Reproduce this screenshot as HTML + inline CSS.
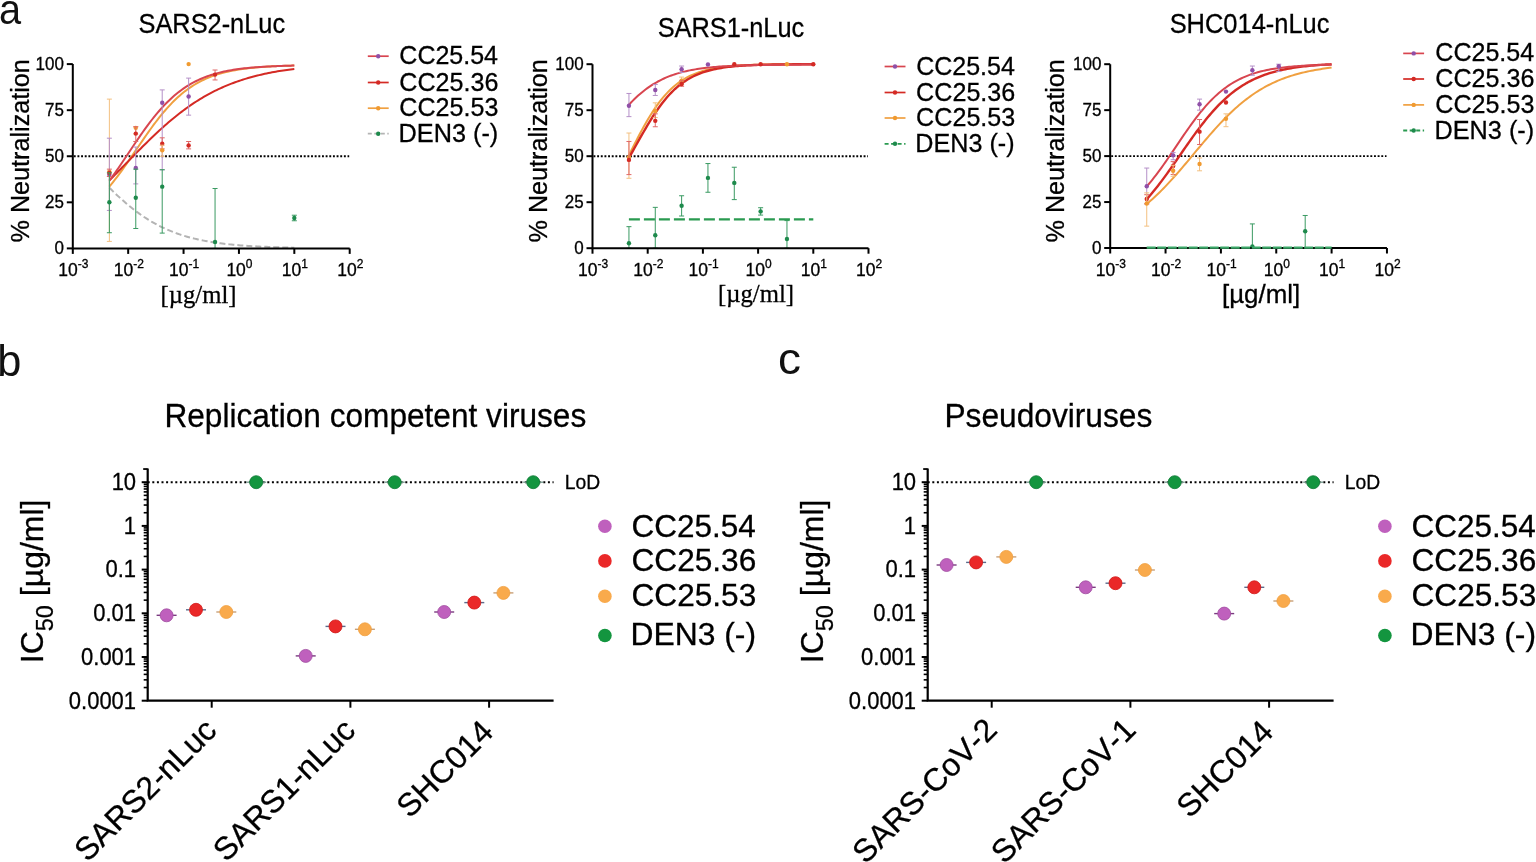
<!DOCTYPE html>
<html><head><meta charset="utf-8"><title>Figure</title>
<style>
html,body{margin:0;padding:0;background:#fff;}
body{width:1536px;height:862px;overflow:hidden;}
svg{display:block;}
.ff{font-family:"Liberation Sans", Arial, Helvetica, sans-serif;}
.ff2{font-family:"Liberation Serif", "Times New Roman", serif;}
text{font-kerning:none;stroke:#000;stroke-width:0.3px;}
</style></head><body>
<svg width="1536" height="862" viewBox="0 0 1536 862">
<rect width="1536" height="862" fill="#fff"/>
<text class="ff" x="-0.99" y="23.80" font-size="42.5" textLength="22.09" lengthAdjust="spacingAndGlyphs" fill="#111" style="stroke:none">a</text>
<text class="ff" x="-2.79" y="375.80" font-size="43.5" textLength="24.12" lengthAdjust="spacingAndGlyphs" fill="#111" style="stroke:none">b</text>
<text class="ff" x="777.95" y="374.00" font-size="43.5" textLength="22.96" lengthAdjust="spacingAndGlyphs" fill="#111" style="stroke:none">c</text>
<line x1="73.8" y1="156.2" x2="349.2" y2="156.2" stroke="#000" stroke-width="1.9" stroke-dasharray="1.9 1.75"/>
<polyline points="109.36,186.57 111.21,184.34 113.06,182.05 114.91,179.71 116.76,177.30 118.61,174.85 120.46,172.35 122.31,169.81 124.16,167.22 126.01,164.61 127.86,161.96 129.70,159.28 131.55,156.59 133.40,153.88 135.25,151.16 137.10,148.44 138.95,145.73 140.80,143.02 142.65,140.32 144.50,137.64 146.35,134.99 148.20,132.36 150.05,129.77 151.90,127.22 153.75,124.71 155.60,122.24 157.45,119.83 159.30,117.47 161.15,115.17 163.00,112.93 164.85,110.75 166.70,108.63 168.55,106.57 170.40,104.59 172.25,102.67 174.10,100.81 175.95,99.03 177.79,97.31 179.64,95.66 181.49,94.07 183.34,92.55 185.19,91.09 187.04,89.70 188.89,88.37 190.74,87.10 192.59,85.88 194.44,84.73 196.29,83.63 198.14,82.58 199.99,81.59 201.84,80.65 203.69,79.75 205.54,78.90 207.39,78.10 209.24,77.33 211.09,76.61 212.94,75.93 214.79,75.28 216.64,74.67 218.49,74.09 220.34,73.55 222.19,73.04 224.03,72.55 225.88,72.09 227.73,71.66 229.58,71.26 231.43,70.87 233.28,70.51 235.13,70.17 236.98,69.85 238.83,69.55 240.68,69.27 242.53,69.00 244.38,68.75 246.23,68.51 248.08,68.29 249.93,68.08 251.78,67.89 253.63,67.70 255.48,67.53 257.33,67.36 259.18,67.21 261.03,67.07 262.88,66.93 264.73,66.81 266.58,66.69 268.43,66.58 270.28,66.47 272.12,66.37 273.97,66.28 275.82,66.19 277.67,66.11 279.52,66.03 281.37,65.96 283.22,65.90 285.07,65.83 286.92,65.77 288.77,65.72 290.62,65.66 292.47,65.62 294.32,65.57" fill="none" stroke="#f0a040" stroke-width="2"/>
<polyline points="109.36,180.39 111.21,178.55 113.06,176.69 114.91,174.83 116.76,172.95 118.61,171.07 120.46,169.19 122.31,167.30 124.16,165.40 126.01,163.51 127.86,161.61 129.70,159.71 131.55,157.82 133.40,155.93 135.25,154.05 137.10,152.17 138.95,150.30 140.80,148.44 142.65,146.58 144.50,144.74 146.35,142.92 148.20,141.10 150.05,139.30 151.90,137.52 153.75,135.75 155.60,134.00 157.45,132.27 159.30,130.56 161.15,128.88 163.00,127.21 164.85,125.56 166.70,123.94 168.55,122.34 170.40,120.77 172.25,119.22 174.10,117.69 175.95,116.20 177.79,114.72 179.64,113.28 181.49,111.86 183.34,110.47 185.19,109.10 187.04,107.77 188.89,106.46 190.74,105.17 192.59,103.92 194.44,102.69 196.29,101.49 198.14,100.32 199.99,99.18 201.84,98.06 203.69,96.97 205.54,95.91 207.39,94.87 209.24,93.86 211.09,92.87 212.94,91.92 214.79,90.98 216.64,90.07 218.49,89.19 220.34,88.33 222.19,87.49 224.03,86.68 225.88,85.89 227.73,85.12 229.58,84.38 231.43,83.66 233.28,82.95 235.13,82.27 236.98,81.61 238.83,80.97 240.68,80.35 242.53,79.75 244.38,79.17 246.23,78.60 248.08,78.05 249.93,77.52 251.78,77.01 253.63,76.51 255.48,76.03 257.33,75.57 259.18,75.12 261.03,74.68 262.88,74.26 264.73,73.85 266.58,73.46 268.43,73.08 270.28,72.71 272.12,72.35 273.97,72.01 275.82,71.67 277.67,71.35 279.52,71.04 281.37,70.74 283.22,70.45 285.07,70.17 286.92,69.90 288.77,69.64 290.62,69.39 292.47,69.15 294.32,68.91" fill="none" stroke="#d42a24" stroke-width="2"/>
<polyline points="109.36,180.78 111.21,178.25 113.06,175.68 114.91,173.07 116.76,170.42 118.61,167.73 120.46,165.02 122.31,162.29 124.16,159.54 126.01,156.78 127.86,154.01 129.70,151.24 131.55,148.47 133.40,145.72 135.25,142.97 137.10,140.25 138.95,137.56 140.80,134.89 142.65,132.26 144.50,129.67 146.35,127.12 148.20,124.61 150.05,122.16 151.90,119.76 153.75,117.42 155.60,115.14 157.45,112.92 159.30,110.76 161.15,108.66 163.00,106.63 164.85,104.67 166.70,102.77 168.55,100.94 170.40,99.18 172.25,97.48 174.10,95.85 175.95,94.29 177.79,92.78 179.64,91.35 181.49,89.97 183.34,88.65 185.19,87.39 187.04,86.20 188.89,85.05 190.74,83.96 192.59,82.92 194.44,81.94 196.29,81.00 198.14,80.11 199.99,79.26 201.84,78.46 203.69,77.70 205.54,76.97 207.39,76.29 209.24,75.64 211.09,75.03 212.94,74.45 214.79,73.90 216.64,73.38 218.49,72.89 220.34,72.43 222.19,72.00 224.03,71.58 225.88,71.19 227.73,70.83 229.58,70.48 231.43,70.16 233.28,69.85 235.13,69.56 236.98,69.28 238.83,69.03 240.68,68.78 242.53,68.56 244.38,68.34 246.23,68.14 248.08,67.95 249.93,67.77 251.78,67.60 253.63,67.44 255.48,67.29 257.33,67.15 259.18,67.02 261.03,66.89 262.88,66.78 264.73,66.67 266.58,66.56 268.43,66.47 270.28,66.38 272.12,66.29 273.97,66.21 275.82,66.13 277.67,66.06 279.52,65.99 281.37,65.93 283.22,65.87 285.07,65.81 286.92,65.76 288.77,65.71 290.62,65.67 292.47,65.62 294.32,65.58" fill="none" stroke="#d8454f" stroke-width="2"/>
<polyline points="109.36,187.73 111.21,189.56 113.06,191.37 114.91,193.15 116.76,194.91 118.61,196.63 120.46,198.33 122.31,199.99 124.16,201.62 126.01,203.22 127.86,204.79 129.70,206.31 131.55,207.81 133.40,209.27 135.25,210.69 137.10,212.07 138.95,213.42 140.80,214.74 142.65,216.01 144.50,217.25 146.35,218.45 148.20,219.62 150.05,220.75 151.90,221.84 153.75,222.90 155.60,223.93 157.45,224.92 159.30,225.87 161.15,226.80 163.00,227.69 164.85,228.55 166.70,229.38 168.55,230.18 170.40,230.95 172.25,231.69 174.10,232.40 175.95,233.09 177.79,233.75 179.64,234.38 181.49,234.99 183.34,235.58 185.19,236.14 187.04,236.68 188.89,237.19 190.74,237.69 192.59,238.17 194.44,238.62 196.29,239.06 198.14,239.48 199.99,239.88 201.84,240.26 203.69,240.63 205.54,240.98 207.39,241.32 209.24,241.64 211.09,241.95 212.94,242.24 214.79,242.53 216.64,242.79 218.49,243.05 220.34,243.30 222.19,243.53 224.03,243.76 225.88,243.97 227.73,244.18 229.58,244.37 231.43,244.56 233.28,244.74 235.13,244.91 236.98,245.07 238.83,245.23 240.68,245.38 242.53,245.52 244.38,245.66 246.23,245.79 248.08,245.91 249.93,246.03 251.78,246.14 253.63,246.25 255.48,246.35 257.33,246.45 259.18,246.54 261.03,246.63 262.88,246.71 264.73,246.79 266.58,246.87 268.43,246.94 270.28,247.01 272.12,247.08 273.97,247.14 275.82,247.20 277.67,247.26 279.52,247.32 281.37,247.37 283.22,247.42 285.07,247.47 286.92,247.51 288.77,247.56 290.62,247.60 292.47,247.64 294.32,247.67" fill="none" stroke="#b4b4b4" stroke-width="2" stroke-dasharray="6 3"/>
<line x1="109.36" y1="99.12" x2="109.36" y2="241.40" stroke="#f3c080" stroke-width="1"/>
<line x1="106.86" y1="241.40" x2="111.86" y2="241.40" stroke="#f3c080" stroke-width="1"/>
<line x1="106.86" y1="99.12" x2="111.86" y2="99.12" stroke="#f3c080" stroke-width="1"/>
<circle cx="109.36" cy="171.73" r="2.2" fill="#f09a30"/>
<line x1="109.36" y1="138.19" x2="109.36" y2="210.43" stroke="#b590c8" stroke-width="1"/>
<line x1="106.86" y1="210.43" x2="111.86" y2="210.43" stroke="#b590c8" stroke-width="1"/>
<line x1="106.86" y1="138.19" x2="111.86" y2="138.19" stroke="#b590c8" stroke-width="1"/>
<circle cx="109.36" cy="174.68" r="2.2" fill="#9050a8"/>
<line x1="109.36" y1="169.15" x2="109.36" y2="176.52" stroke="#e06868" stroke-width="1"/>
<line x1="106.86" y1="176.52" x2="111.86" y2="176.52" stroke="#e06868" stroke-width="1"/>
<line x1="106.86" y1="169.15" x2="111.86" y2="169.15" stroke="#e06868" stroke-width="1"/>
<circle cx="109.36" cy="172.84" r="2.2" fill="#d42a24"/>
<line x1="109.36" y1="172.84" x2="109.36" y2="232.73" stroke="#3a9a62" stroke-width="1"/>
<line x1="106.86" y1="232.73" x2="111.86" y2="232.73" stroke="#3a9a62" stroke-width="1"/>
<line x1="106.86" y1="172.84" x2="111.86" y2="172.84" stroke="#3a9a62" stroke-width="1"/>
<circle cx="109.36" cy="202.32" r="2.2" fill="#1e8a4c"/>
<line x1="135.78" y1="126.76" x2="135.78" y2="134.13" stroke="#f3c080" stroke-width="1"/>
<line x1="133.28" y1="134.13" x2="138.28" y2="134.13" stroke="#f3c080" stroke-width="1"/>
<line x1="133.28" y1="126.76" x2="138.28" y2="126.76" stroke="#f3c080" stroke-width="1"/>
<circle cx="135.78" cy="127.87" r="2.2" fill="#f09a30"/>
<line x1="135.78" y1="126.76" x2="135.78" y2="141.51" stroke="#e06868" stroke-width="1"/>
<line x1="133.28" y1="141.51" x2="138.28" y2="141.51" stroke="#e06868" stroke-width="1"/>
<line x1="133.28" y1="126.76" x2="138.28" y2="126.76" stroke="#e06868" stroke-width="1"/>
<circle cx="135.78" cy="133.58" r="2.2" fill="#d42a24"/>
<line x1="135.78" y1="147.04" x2="135.78" y2="183.90" stroke="#b590c8" stroke-width="1"/>
<line x1="133.28" y1="183.90" x2="138.28" y2="183.90" stroke="#b590c8" stroke-width="1"/>
<line x1="133.28" y1="147.04" x2="138.28" y2="147.04" stroke="#b590c8" stroke-width="1"/>
<circle cx="135.78" cy="168.05" r="2.2" fill="#9050a8"/>
<line x1="135.78" y1="169.15" x2="135.78" y2="228.50" stroke="#3a9a62" stroke-width="1"/>
<line x1="133.28" y1="228.50" x2="138.28" y2="228.50" stroke="#3a9a62" stroke-width="1"/>
<line x1="133.28" y1="169.15" x2="138.28" y2="169.15" stroke="#3a9a62" stroke-width="1"/>
<circle cx="135.78" cy="197.72" r="2.2" fill="#1e8a4c"/>
<line x1="162.21" y1="89.90" x2="162.21" y2="169.89" stroke="#b590c8" stroke-width="1"/>
<line x1="159.71" y1="169.89" x2="164.71" y2="169.89" stroke="#b590c8" stroke-width="1"/>
<line x1="159.71" y1="89.90" x2="164.71" y2="89.90" stroke="#b590c8" stroke-width="1"/>
<circle cx="162.21" cy="102.80" r="2.2" fill="#9050a8"/>
<line x1="162.21" y1="137.82" x2="162.21" y2="148.88" stroke="#e06868" stroke-width="1"/>
<line x1="159.71" y1="148.88" x2="164.71" y2="148.88" stroke="#e06868" stroke-width="1"/>
<line x1="159.71" y1="137.82" x2="164.71" y2="137.82" stroke="#e06868" stroke-width="1"/>
<circle cx="162.21" cy="143.72" r="2.2" fill="#d42a24"/>
<line x1="162.21" y1="145.19" x2="162.21" y2="156.25" stroke="#f3c080" stroke-width="1"/>
<line x1="159.71" y1="156.25" x2="164.71" y2="156.25" stroke="#f3c080" stroke-width="1"/>
<line x1="159.71" y1="145.19" x2="164.71" y2="145.19" stroke="#f3c080" stroke-width="1"/>
<circle cx="162.21" cy="150.35" r="2.2" fill="#f09a30"/>
<line x1="162.21" y1="169.70" x2="162.21" y2="233.10" stroke="#3a9a62" stroke-width="1"/>
<line x1="159.71" y1="233.10" x2="164.71" y2="233.10" stroke="#3a9a62" stroke-width="1"/>
<line x1="159.71" y1="169.70" x2="164.71" y2="169.70" stroke="#3a9a62" stroke-width="1"/>
<circle cx="162.21" cy="186.66" r="2.2" fill="#1e8a4c"/>
<circle cx="188.63" cy="64.10" r="2.2" fill="#f09a30"/>
<line x1="188.63" y1="78.11" x2="188.63" y2="115.15" stroke="#b590c8" stroke-width="1"/>
<line x1="186.13" y1="115.15" x2="191.13" y2="115.15" stroke="#b590c8" stroke-width="1"/>
<line x1="186.13" y1="78.11" x2="191.13" y2="78.11" stroke="#b590c8" stroke-width="1"/>
<circle cx="188.63" cy="96.54" r="2.2" fill="#9050a8"/>
<line x1="188.63" y1="141.51" x2="188.63" y2="148.88" stroke="#e06868" stroke-width="1"/>
<line x1="186.13" y1="148.88" x2="191.13" y2="148.88" stroke="#e06868" stroke-width="1"/>
<line x1="186.13" y1="141.51" x2="191.13" y2="141.51" stroke="#e06868" stroke-width="1"/>
<circle cx="188.63" cy="145.38" r="2.2" fill="#d42a24"/>
<line x1="215.05" y1="70.00" x2="215.05" y2="79.95" stroke="#e06868" stroke-width="1"/>
<line x1="212.55" y1="79.95" x2="217.55" y2="79.95" stroke="#e06868" stroke-width="1"/>
<line x1="212.55" y1="70.00" x2="217.55" y2="70.00" stroke="#e06868" stroke-width="1"/>
<circle cx="215.05" cy="74.61" r="2.2" fill="#d42a24"/>
<line x1="215.05" y1="188.50" x2="215.05" y2="248.40" stroke="#3a9a62" stroke-width="1"/>
<line x1="212.55" y1="248.40" x2="217.55" y2="248.40" stroke="#3a9a62" stroke-width="1"/>
<line x1="212.55" y1="188.50" x2="217.55" y2="188.50" stroke="#3a9a62" stroke-width="1"/>
<circle cx="215.05" cy="241.95" r="2.2" fill="#1e8a4c"/>
<line x1="294.32" y1="215.23" x2="294.32" y2="220.75" stroke="#3a9a62" stroke-width="1"/>
<line x1="291.82" y1="220.75" x2="296.82" y2="220.75" stroke="#3a9a62" stroke-width="1"/>
<line x1="291.82" y1="215.23" x2="296.82" y2="215.23" stroke="#3a9a62" stroke-width="1"/>
<circle cx="294.32" cy="217.99" r="2.2" fill="#1e8a4c"/>
<path d="M72.80,64.10 V248.40 H349.70" fill="none" stroke="#000" stroke-width="2"/>
<line x1="72.80" y1="248.40" x2="72.80" y2="253.90" stroke="#000" stroke-width="2"/>
<line x1="128.18" y1="248.40" x2="128.18" y2="253.90" stroke="#000" stroke-width="2"/>
<line x1="183.56" y1="248.40" x2="183.56" y2="253.90" stroke="#000" stroke-width="2"/>
<line x1="238.94" y1="248.40" x2="238.94" y2="253.90" stroke="#000" stroke-width="2"/>
<line x1="294.32" y1="248.40" x2="294.32" y2="253.90" stroke="#000" stroke-width="2"/>
<line x1="349.70" y1="248.40" x2="349.70" y2="253.90" stroke="#000" stroke-width="2"/>
<line x1="66.80" y1="248.40" x2="72.80" y2="248.40" stroke="#000" stroke-width="2"/>
<text class="ff" x="54.51" y="254.40" font-size="17.85" textLength="9.45" lengthAdjust="spacingAndGlyphs" fill="#000" >0</text>
<line x1="66.80" y1="202.32" x2="72.80" y2="202.32" stroke="#000" stroke-width="2"/>
<text class="ff" x="45.10" y="208.32" font-size="17.85" textLength="18.91" lengthAdjust="spacingAndGlyphs" fill="#000" >25</text>
<line x1="66.80" y1="156.25" x2="72.80" y2="156.25" stroke="#000" stroke-width="2"/>
<text class="ff" x="45.05" y="162.25" font-size="17.85" textLength="18.91" lengthAdjust="spacingAndGlyphs" fill="#000" >50</text>
<line x1="66.80" y1="110.18" x2="72.80" y2="110.18" stroke="#000" stroke-width="2"/>
<text class="ff" x="45.10" y="116.18" font-size="17.85" textLength="18.91" lengthAdjust="spacingAndGlyphs" fill="#000" >75</text>
<line x1="66.80" y1="64.10" x2="72.80" y2="64.10" stroke="#000" stroke-width="2"/>
<text class="ff" x="35.60" y="70.10" font-size="17.85" textLength="28.36" lengthAdjust="spacingAndGlyphs" fill="#000" >100</text>
<text class="ff" x="58.30" y="275.90" font-size="17.5">10<tspan font-size="12" dy="-7.5">-3</tspan></text>
<text class="ff" x="113.71" y="275.90" font-size="17.5">10<tspan font-size="12" dy="-7.5">-2</tspan></text>
<text class="ff" x="169.09" y="275.90" font-size="17.5">10<tspan font-size="12" dy="-7.5">-1</tspan></text>
<text class="ff" x="226.40" y="275.90" font-size="17.5">10<tspan font-size="12" dy="-7.5">0</tspan></text>
<text class="ff" x="281.84" y="275.90" font-size="17.5">10<tspan font-size="12" dy="-7.5">1</tspan></text>
<text class="ff" x="337.23" y="275.90" font-size="17.5">10<tspan font-size="12" dy="-7.5">2</tspan></text>
<g transform="translate(28.60,241.60) rotate(-90)">
<text class="ff" x="-0.90" y="0.00" font-size="26.25" textLength="183.33" lengthAdjust="spacingAndGlyphs" fill="#000" >% Neutralization</text>
</g>
<text class="ff" x="138.55" y="33.20" font-size="26.78" textLength="146.52" lengthAdjust="spacingAndGlyphs" fill="#000" >SARS2-nLuc</text>
<text class="ff2" x="160.57" y="302.50" font-size="25.73" textLength="75.97" lengthAdjust="spacingAndGlyphs" fill="#000" >[µg/ml]</text>
<line x1="367.8" y1="56.2" x2="388.7" y2="56.2" stroke="#d8454f" stroke-width="1.7"/>
<circle cx="378.2" cy="56.2" r="2.2" fill="#9050a8"/>
<text class="ff" x="399.33" y="64.20" font-size="25.73" textLength="98.70" lengthAdjust="spacingAndGlyphs" fill="#000" >CC25.54</text>
<line x1="367.8" y1="82.5" x2="388.7" y2="82.5" stroke="#d42a24" stroke-width="1.7"/>
<circle cx="378.2" cy="82.5" r="2.2" fill="#d42a24"/>
<text class="ff" x="399.33" y="90.50" font-size="25.73" textLength="99.08" lengthAdjust="spacingAndGlyphs" fill="#000" >CC25.36</text>
<line x1="367.8" y1="108.2" x2="388.7" y2="108.2" stroke="#f0a040" stroke-width="1.7"/>
<circle cx="378.2" cy="108.2" r="2.2" fill="#f09a30"/>
<text class="ff" x="399.33" y="116.20" font-size="25.73" textLength="99.08" lengthAdjust="spacingAndGlyphs" fill="#000" >CC25.53</text>
<line x1="367.8" y1="133.7" x2="388.7" y2="133.7" stroke="#b4b4b4" stroke-width="1.8" stroke-dasharray="4 2.5"/>
<circle cx="378.2" cy="133.7" r="2.2" fill="#1e8a4c"/>
<text class="ff" x="398.53" y="141.70" font-size="25.73" textLength="99.74" lengthAdjust="spacingAndGlyphs" fill="#000" >DEN3 (-)</text>
<line x1="593.5" y1="156.2" x2="868.0" y2="156.2" stroke="#000" stroke-width="1.9" stroke-dasharray="1.9 1.75"/>
<polyline points="628.94,155.21 630.78,151.52 632.63,147.85 634.47,144.20 636.31,140.59 638.16,137.03 640.00,133.53 641.85,130.10 643.69,126.74 645.53,123.47 647.38,120.29 649.22,117.21 651.06,114.23 652.91,111.35 654.75,108.59 656.59,105.94 658.44,103.40 660.28,100.98 662.13,98.66 663.97,96.47 665.81,94.38 667.66,92.40 669.50,90.53 671.34,88.76 673.19,87.09 675.03,85.52 676.87,84.04 678.72,82.66 680.56,81.36 682.40,80.14 684.25,78.99 686.09,77.93 687.94,76.93 689.78,76.00 691.62,75.13 693.47,74.32 695.31,73.56 697.15,72.86 699.00,72.21 700.84,71.60 702.68,71.04 704.53,70.51 706.37,70.03 708.21,69.58 710.06,69.16 711.90,68.77 713.75,68.41 715.59,68.08 717.43,67.77 719.28,67.48 721.12,67.22 722.96,66.97 724.81,66.75 726.65,66.54 728.49,66.34 730.34,66.16 732.18,66.00 734.03,65.84 735.87,65.70 737.71,65.57 739.56,65.45 741.40,65.34 743.24,65.23 745.09,65.14 746.93,65.05 748.77,64.97 750.62,64.89 752.46,64.82 754.30,64.76 756.15,64.70 757.99,64.64 759.84,64.59 761.68,64.54 763.52,64.50 765.37,64.46 767.21,64.42 769.05,64.39 770.90,64.36 772.74,64.33 774.58,64.30 776.43,64.28 778.27,64.25 780.12,64.23 781.96,64.21 783.80,64.20 785.65,64.18 787.49,64.16 789.33,64.15 791.18,64.14 793.02,64.12 794.86,64.11 796.71,64.10 798.55,64.09 800.39,64.08 802.24,64.08 804.08,64.07 805.93,64.06 807.77,64.06 809.61,64.05 811.46,64.04 813.30,64.04" fill="none" stroke="#f0a040" stroke-width="2"/>
<polyline points="628.94,157.80 630.78,154.57 632.63,151.31 634.47,148.03 636.31,144.74 638.16,141.46 640.00,138.19 641.85,134.95 643.69,131.74 645.53,128.57 647.38,125.46 649.22,122.40 651.06,119.42 652.91,116.52 654.75,113.69 656.59,110.96 658.44,108.31 660.28,105.77 662.13,103.32 663.97,100.97 665.81,98.72 667.66,96.58 669.50,94.53 671.34,92.59 673.19,90.75 675.03,89.00 676.87,87.35 678.72,85.79 680.56,84.32 682.40,82.94 684.25,81.64 686.09,80.42 687.94,79.28 689.78,78.21 691.62,77.21 693.47,76.27 695.31,75.40 697.15,74.58 699.00,73.82 700.84,73.11 702.68,72.45 704.53,71.84 706.37,71.27 708.21,70.74 710.06,70.25 711.90,69.79 713.75,69.37 715.59,68.98 717.43,68.61 719.28,68.28 721.12,67.96 722.96,67.67 724.81,67.41 726.65,67.16 728.49,66.93 730.34,66.72 732.18,66.52 734.03,66.34 735.87,66.17 737.71,66.02 739.56,65.87 741.40,65.74 743.24,65.62 745.09,65.50 746.93,65.40 748.77,65.30 750.62,65.21 752.46,65.13 754.30,65.06 756.15,64.99 757.99,64.92 759.84,64.86 761.68,64.81 763.52,64.76 765.37,64.71 767.21,64.66 769.05,64.62 770.90,64.59 772.74,64.55 774.58,64.52 776.43,64.49 778.27,64.47 780.12,64.44 781.96,64.42 783.80,64.40 785.65,64.38 787.49,64.36 789.33,64.34 791.18,64.33 793.02,64.31 794.86,64.30 796.71,64.29 798.55,64.28 800.39,64.27 802.24,64.26 804.08,64.25 805.93,64.24 807.77,64.23 809.61,64.23 811.46,64.22 813.30,64.21" fill="none" stroke="#d42a24" stroke-width="2.4"/>
<polyline points="628.94,104.74 630.78,102.78 632.63,100.89 634.47,99.06 636.31,97.30 638.16,95.61 640.00,93.99 641.85,92.44 643.69,90.95 645.53,89.52 647.38,88.16 649.22,86.86 651.06,85.63 652.91,84.45 654.75,83.32 656.59,82.26 658.44,81.25 660.28,80.28 662.13,79.37 663.97,78.51 665.81,77.69 667.66,76.92 669.50,76.18 671.34,75.49 673.19,74.84 675.03,74.22 676.87,73.64 678.72,73.09 680.56,72.57 682.40,72.08 684.25,71.62 686.09,71.19 687.94,70.78 689.78,70.39 691.62,70.03 693.47,69.69 695.31,69.37 697.15,69.07 699.00,68.79 700.84,68.53 702.68,68.28 704.53,68.04 706.37,67.82 708.21,67.62 710.06,67.42 711.90,67.24 713.75,67.07 715.59,66.91 717.43,66.76 719.28,66.62 721.12,66.49 722.96,66.36 724.81,66.25 726.65,66.14 728.49,66.03 730.34,65.94 732.18,65.85 734.03,65.76 735.87,65.69 737.71,65.61 739.56,65.54 741.40,65.48 743.24,65.42 745.09,65.36 746.93,65.31 748.77,65.26 750.62,65.21 752.46,65.16 754.30,65.12 756.15,65.08 757.99,65.05 759.84,65.01 761.68,64.98 763.52,64.95 765.37,64.92 767.21,64.90 769.05,64.87 770.90,64.85 772.74,64.83 774.58,64.81 776.43,64.79 778.27,64.77 780.12,64.76 781.96,64.74 783.80,64.73 785.65,64.71 787.49,64.70 789.33,64.69 791.18,64.68 793.02,64.67 794.86,64.66 796.71,64.65 798.55,64.64 800.39,64.63 802.24,64.62 804.08,64.62 805.93,64.61 807.77,64.60 809.61,64.60 811.46,64.59 813.30,64.59" fill="none" stroke="#d8454f" stroke-width="2"/>
<line x1="628.94" y1="93.46" x2="628.94" y2="116.64" stroke="#b590c8" stroke-width="1"/>
<line x1="626.44" y1="116.64" x2="631.44" y2="116.64" stroke="#b590c8" stroke-width="1"/>
<line x1="626.44" y1="93.46" x2="631.44" y2="93.46" stroke="#b590c8" stroke-width="1"/>
<circle cx="628.94" cy="105.78" r="2.2" fill="#9050a8"/>
<line x1="628.94" y1="133.02" x2="628.94" y2="178.28" stroke="#f3c080" stroke-width="1"/>
<line x1="626.44" y1="178.28" x2="631.44" y2="178.28" stroke="#f3c080" stroke-width="1"/>
<line x1="626.44" y1="133.02" x2="631.44" y2="133.02" stroke="#f3c080" stroke-width="1"/>
<circle cx="628.94" cy="157.30" r="2.2" fill="#f09a30"/>
<line x1="628.94" y1="141.48" x2="628.94" y2="174.60" stroke="#e06868" stroke-width="1"/>
<line x1="626.44" y1="174.60" x2="631.44" y2="174.60" stroke="#e06868" stroke-width="1"/>
<line x1="626.44" y1="141.48" x2="631.44" y2="141.48" stroke="#e06868" stroke-width="1"/>
<circle cx="628.94" cy="159.88" r="2.2" fill="#d42a24"/>
<line x1="628.94" y1="226.67" x2="628.94" y2="248.20" stroke="#3a9a62" stroke-width="1"/>
<line x1="626.44" y1="248.20" x2="631.44" y2="248.20" stroke="#3a9a62" stroke-width="1"/>
<line x1="626.44" y1="226.67" x2="631.44" y2="226.67" stroke="#3a9a62" stroke-width="1"/>
<circle cx="628.94" cy="243.23" r="2.2" fill="#1e8a4c"/>
<line x1="655.28" y1="84.44" x2="655.28" y2="95.48" stroke="#b590c8" stroke-width="1"/>
<line x1="652.78" y1="95.48" x2="657.78" y2="95.48" stroke="#b590c8" stroke-width="1"/>
<line x1="652.78" y1="84.44" x2="657.78" y2="84.44" stroke="#b590c8" stroke-width="1"/>
<circle cx="655.28" cy="89.96" r="2.2" fill="#9050a8"/>
<line x1="655.28" y1="102.84" x2="655.28" y2="117.56" stroke="#f3c080" stroke-width="1"/>
<line x1="652.78" y1="117.56" x2="657.78" y2="117.56" stroke="#f3c080" stroke-width="1"/>
<line x1="652.78" y1="102.84" x2="657.78" y2="102.84" stroke="#f3c080" stroke-width="1"/>
<circle cx="655.28" cy="110.94" r="2.2" fill="#f09a30"/>
<line x1="655.28" y1="113.88" x2="655.28" y2="126.76" stroke="#e06868" stroke-width="1"/>
<line x1="652.78" y1="126.76" x2="657.78" y2="126.76" stroke="#e06868" stroke-width="1"/>
<line x1="652.78" y1="113.88" x2="657.78" y2="113.88" stroke="#e06868" stroke-width="1"/>
<circle cx="655.28" cy="120.87" r="2.2" fill="#d42a24"/>
<line x1="655.28" y1="207.35" x2="655.28" y2="248.20" stroke="#3a9a62" stroke-width="1"/>
<line x1="652.78" y1="248.20" x2="657.78" y2="248.20" stroke="#3a9a62" stroke-width="1"/>
<line x1="652.78" y1="207.35" x2="657.78" y2="207.35" stroke="#3a9a62" stroke-width="1"/>
<circle cx="655.28" cy="235.32" r="2.2" fill="#1e8a4c"/>
<line x1="681.61" y1="66.04" x2="681.61" y2="72.48" stroke="#b590c8" stroke-width="1"/>
<line x1="679.11" y1="72.48" x2="684.11" y2="72.48" stroke="#b590c8" stroke-width="1"/>
<line x1="679.11" y1="66.04" x2="684.11" y2="66.04" stroke="#b590c8" stroke-width="1"/>
<circle cx="681.61" cy="69.17" r="2.2" fill="#9050a8"/>
<line x1="681.61" y1="77.08" x2="681.61" y2="84.44" stroke="#f3c080" stroke-width="1"/>
<line x1="679.11" y1="84.44" x2="684.11" y2="84.44" stroke="#f3c080" stroke-width="1"/>
<line x1="679.11" y1="77.08" x2="684.11" y2="77.08" stroke="#f3c080" stroke-width="1"/>
<circle cx="681.61" cy="80.76" r="2.2" fill="#f09a30"/>
<line x1="681.61" y1="80.76" x2="681.61" y2="86.28" stroke="#e06868" stroke-width="1"/>
<line x1="679.11" y1="86.28" x2="684.11" y2="86.28" stroke="#e06868" stroke-width="1"/>
<line x1="679.11" y1="80.76" x2="684.11" y2="80.76" stroke="#e06868" stroke-width="1"/>
<circle cx="681.61" cy="84.07" r="2.2" fill="#d42a24"/>
<line x1="681.61" y1="195.76" x2="681.61" y2="216.00" stroke="#3a9a62" stroke-width="1"/>
<line x1="679.11" y1="216.00" x2="684.11" y2="216.00" stroke="#3a9a62" stroke-width="1"/>
<line x1="679.11" y1="195.76" x2="684.11" y2="195.76" stroke="#3a9a62" stroke-width="1"/>
<circle cx="681.61" cy="205.70" r="2.2" fill="#1e8a4c"/>
<circle cx="707.95" cy="64.57" r="2.2" fill="#9050a8"/>
<line x1="707.95" y1="163.56" x2="707.95" y2="192.26" stroke="#3a9a62" stroke-width="1"/>
<line x1="705.45" y1="192.26" x2="710.45" y2="192.26" stroke="#3a9a62" stroke-width="1"/>
<line x1="705.45" y1="163.56" x2="710.45" y2="163.56" stroke="#3a9a62" stroke-width="1"/>
<circle cx="707.95" cy="177.91" r="2.2" fill="#1e8a4c"/>
<circle cx="734.29" cy="64.20" r="2.2" fill="#d42a24"/>
<line x1="734.29" y1="167.24" x2="734.29" y2="199.62" stroke="#3a9a62" stroke-width="1"/>
<line x1="731.79" y1="199.62" x2="736.79" y2="199.62" stroke="#3a9a62" stroke-width="1"/>
<line x1="731.79" y1="167.24" x2="736.79" y2="167.24" stroke="#3a9a62" stroke-width="1"/>
<circle cx="734.29" cy="182.88" r="2.2" fill="#1e8a4c"/>
<circle cx="760.63" cy="64.20" r="2.2" fill="#d42a24"/>
<line x1="760.63" y1="207.72" x2="760.63" y2="215.08" stroke="#3a9a62" stroke-width="1"/>
<line x1="758.13" y1="215.08" x2="763.13" y2="215.08" stroke="#3a9a62" stroke-width="1"/>
<line x1="758.13" y1="207.72" x2="763.13" y2="207.72" stroke="#3a9a62" stroke-width="1"/>
<circle cx="760.63" cy="211.40" r="2.2" fill="#1e8a4c"/>
<circle cx="786.96" cy="64.20" r="2.2" fill="#f09a30"/>
<line x1="786.96" y1="220.60" x2="786.96" y2="248.20" stroke="#3a9a62" stroke-width="1"/>
<line x1="784.46" y1="248.20" x2="789.46" y2="248.20" stroke="#3a9a62" stroke-width="1"/>
<line x1="784.46" y1="220.60" x2="789.46" y2="220.60" stroke="#3a9a62" stroke-width="1"/>
<circle cx="786.96" cy="239.00" r="2.2" fill="#1e8a4c"/>
<circle cx="813.30" cy="64.20" r="2.2" fill="#d42a24"/>
<path d="M592.50,64.20 V248.20 H868.50" fill="none" stroke="#000" stroke-width="2"/>
<line x1="592.50" y1="248.20" x2="592.50" y2="253.70" stroke="#000" stroke-width="2"/>
<line x1="647.70" y1="248.20" x2="647.70" y2="253.70" stroke="#000" stroke-width="2"/>
<line x1="702.90" y1="248.20" x2="702.90" y2="253.70" stroke="#000" stroke-width="2"/>
<line x1="758.10" y1="248.20" x2="758.10" y2="253.70" stroke="#000" stroke-width="2"/>
<line x1="813.30" y1="248.20" x2="813.30" y2="253.70" stroke="#000" stroke-width="2"/>
<line x1="868.50" y1="248.20" x2="868.50" y2="253.70" stroke="#000" stroke-width="2"/>
<line x1="586.50" y1="248.20" x2="592.50" y2="248.20" stroke="#000" stroke-width="2"/>
<text class="ff" x="574.21" y="254.20" font-size="17.85" textLength="9.45" lengthAdjust="spacingAndGlyphs" fill="#000" >0</text>
<line x1="586.50" y1="202.20" x2="592.50" y2="202.20" stroke="#000" stroke-width="2"/>
<text class="ff" x="564.80" y="208.20" font-size="17.85" textLength="18.91" lengthAdjust="spacingAndGlyphs" fill="#000" >25</text>
<line x1="586.50" y1="156.20" x2="592.50" y2="156.20" stroke="#000" stroke-width="2"/>
<text class="ff" x="564.75" y="162.20" font-size="17.85" textLength="18.91" lengthAdjust="spacingAndGlyphs" fill="#000" >50</text>
<line x1="586.50" y1="110.20" x2="592.50" y2="110.20" stroke="#000" stroke-width="2"/>
<text class="ff" x="564.80" y="116.20" font-size="17.85" textLength="18.91" lengthAdjust="spacingAndGlyphs" fill="#000" >75</text>
<line x1="586.50" y1="64.20" x2="592.50" y2="64.20" stroke="#000" stroke-width="2"/>
<text class="ff" x="555.30" y="70.20" font-size="17.85" textLength="28.36" lengthAdjust="spacingAndGlyphs" fill="#000" >100</text>
<text class="ff" x="578.00" y="275.90" font-size="17.5">10<tspan font-size="12" dy="-7.5">-3</tspan></text>
<text class="ff" x="633.23" y="275.90" font-size="17.5">10<tspan font-size="12" dy="-7.5">-2</tspan></text>
<text class="ff" x="688.43" y="275.90" font-size="17.5">10<tspan font-size="12" dy="-7.5">-1</tspan></text>
<text class="ff" x="745.56" y="275.90" font-size="17.5">10<tspan font-size="12" dy="-7.5">0</tspan></text>
<text class="ff" x="800.82" y="275.90" font-size="17.5">10<tspan font-size="12" dy="-7.5">1</tspan></text>
<text class="ff" x="856.03" y="275.90" font-size="17.5">10<tspan font-size="12" dy="-7.5">2</tspan></text>
<g transform="translate(547.20,241.60) rotate(-90)">
<text class="ff" x="-0.90" y="0.00" font-size="26.25" textLength="183.33" lengthAdjust="spacingAndGlyphs" fill="#000" >% Neutralization</text>
</g>
<text class="ff" x="657.65" y="36.90" font-size="26.78" textLength="146.52" lengthAdjust="spacingAndGlyphs" fill="#000" >SARS1-nLuc</text>
<text class="ff2" x="718.07" y="302.00" font-size="25.73" textLength="75.97" lengthAdjust="spacingAndGlyphs" fill="#000" >[µg/ml]</text>
<line x1="884.6" y1="66.5" x2="905.5" y2="66.5" stroke="#d8454f" stroke-width="1.7"/>
<circle cx="895.0" cy="66.5" r="2.2" fill="#9050a8"/>
<text class="ff" x="916.13" y="74.50" font-size="25.73" textLength="98.80" lengthAdjust="spacingAndGlyphs" fill="#000" >CC25.54</text>
<line x1="884.6" y1="92.5" x2="905.5" y2="92.5" stroke="#d42a24" stroke-width="1.7"/>
<circle cx="895.0" cy="92.5" r="2.2" fill="#d42a24"/>
<text class="ff" x="916.12" y="100.50" font-size="25.73" textLength="99.18" lengthAdjust="spacingAndGlyphs" fill="#000" >CC25.36</text>
<line x1="884.6" y1="118.0" x2="905.5" y2="118.0" stroke="#f0a040" stroke-width="1.7"/>
<circle cx="895.0" cy="118.0" r="2.2" fill="#f09a30"/>
<text class="ff" x="916.12" y="126.00" font-size="25.73" textLength="99.18" lengthAdjust="spacingAndGlyphs" fill="#000" >CC25.53</text>
<line x1="884.6" y1="143.8" x2="905.5" y2="143.8" stroke="#2a9a50" stroke-width="1.8" stroke-dasharray="4 2.5"/>
<circle cx="895.0" cy="143.8" r="2.2" fill="#1e8a4c"/>
<text class="ff" x="915.34" y="151.80" font-size="25.73" textLength="99.22" lengthAdjust="spacingAndGlyphs" fill="#000" >DEN3 (-)</text>
<line x1="1111.2" y1="156.1" x2="1386.5" y2="156.1" stroke="#000" stroke-width="1.9" stroke-dasharray="1.9 1.75"/>
<polyline points="1146.74,203.95 1148.59,202.40 1150.44,200.80 1152.29,199.16 1154.13,197.49 1155.98,195.77 1157.83,194.01 1159.68,192.22 1161.53,190.38 1163.38,188.51 1165.23,186.60 1167.07,184.66 1168.92,182.69 1170.77,180.68 1172.62,178.65 1174.47,176.59 1176.32,174.50 1178.17,172.39 1180.01,170.25 1181.86,168.10 1183.71,165.93 1185.56,163.74 1187.41,161.55 1189.26,159.34 1191.11,157.13 1192.95,154.91 1194.80,152.69 1196.65,150.48 1198.50,148.26 1200.35,146.05 1202.20,143.86 1204.05,141.67 1205.89,139.50 1207.74,137.34 1209.59,135.20 1211.44,133.09 1213.29,130.99 1215.14,128.93 1216.99,126.89 1218.84,124.87 1220.68,122.89 1222.53,120.95 1224.38,119.03 1226.23,117.16 1228.08,115.31 1229.93,113.51 1231.78,111.75 1233.62,110.02 1235.47,108.33 1237.32,106.69 1239.17,105.09 1241.02,103.53 1242.87,102.00 1244.72,100.53 1246.56,99.09 1248.41,97.70 1250.26,96.34 1252.11,95.03 1253.96,93.76 1255.81,92.53 1257.66,91.34 1259.50,90.19 1261.35,89.07 1263.20,88.00 1265.05,86.96 1266.90,85.96 1268.75,85.00 1270.60,84.07 1272.44,83.17 1274.29,82.31 1276.14,81.48 1277.99,80.69 1279.84,79.92 1281.69,79.18 1283.54,78.48 1285.38,77.80 1287.23,77.15 1289.08,76.52 1290.93,75.92 1292.78,75.34 1294.63,74.79 1296.48,74.26 1298.33,73.76 1300.17,73.27 1302.02,72.81 1303.87,72.36 1305.72,71.94 1307.57,71.53 1309.42,71.14 1311.27,70.77 1313.11,70.41 1314.96,70.07 1316.81,69.75 1318.66,69.44 1320.51,69.14 1322.36,68.86 1324.21,68.59 1326.05,68.33 1327.90,68.08 1329.75,67.84 1331.60,67.62" fill="none" stroke="#f0a040" stroke-width="2"/>
<polyline points="1146.74,199.22 1148.59,197.14 1150.44,195.00 1152.29,192.81 1154.13,190.57 1155.98,188.27 1157.83,185.93 1159.68,183.54 1161.53,181.11 1163.38,178.63 1165.23,176.12 1167.07,173.58 1168.92,171.00 1170.77,168.40 1172.62,165.77 1174.47,163.13 1176.32,160.47 1178.17,157.80 1180.01,155.13 1181.86,152.46 1183.71,149.79 1185.56,147.13 1187.41,144.48 1189.26,141.85 1191.11,139.24 1192.95,136.66 1194.80,134.10 1196.65,131.58 1198.50,129.10 1200.35,126.65 1202.20,124.25 1204.05,121.89 1205.89,119.58 1207.74,117.33 1209.59,115.12 1211.44,112.97 1213.29,110.88 1215.14,108.84 1216.99,106.86 1218.84,104.94 1220.68,103.08 1222.53,101.28 1224.38,99.54 1226.23,97.85 1228.08,96.23 1229.93,94.67 1231.78,93.16 1233.62,91.71 1235.47,90.32 1237.32,88.98 1239.17,87.70 1241.02,86.47 1242.87,85.29 1244.72,84.17 1246.56,83.09 1248.41,82.06 1250.26,81.07 1252.11,80.14 1253.96,79.24 1255.81,78.38 1257.66,77.57 1259.50,76.79 1261.35,76.06 1263.20,75.35 1265.05,74.68 1266.90,74.05 1268.75,73.44 1270.60,72.87 1272.44,72.33 1274.29,71.81 1276.14,71.32 1277.99,70.85 1279.84,70.41 1281.69,69.99 1283.54,69.59 1285.38,69.22 1287.23,68.86 1289.08,68.52 1290.93,68.20 1292.78,67.90 1294.63,67.61 1296.48,67.34 1298.33,67.08 1300.17,66.84 1302.02,66.61 1303.87,66.39 1305.72,66.19 1307.57,65.99 1309.42,65.81 1311.27,65.64 1313.11,65.47 1314.96,65.32 1316.81,65.17 1318.66,65.03 1320.51,64.90 1322.36,64.77 1324.21,64.66 1326.05,64.55 1327.90,64.44 1329.75,64.34 1331.60,64.25" fill="none" stroke="#d42a24" stroke-width="2.4"/>
<polyline points="1146.74,186.36 1148.59,184.23 1150.44,182.03 1152.29,179.77 1154.13,177.45 1155.98,175.07 1157.83,172.63 1159.68,170.13 1161.53,167.59 1163.38,165.01 1165.23,162.38 1167.07,159.72 1168.92,157.03 1170.77,154.32 1172.62,151.59 1174.47,148.84 1176.32,146.10 1178.17,143.35 1180.01,140.61 1181.86,137.88 1183.71,135.17 1185.56,132.48 1187.41,129.83 1189.26,127.21 1191.11,124.63 1192.95,122.09 1194.80,119.61 1196.65,117.18 1198.50,114.80 1200.35,112.49 1202.20,110.24 1204.05,108.05 1205.89,105.93 1207.74,103.88 1209.59,101.90 1211.44,99.99 1213.29,98.15 1215.14,96.38 1216.99,94.68 1218.84,93.05 1220.68,91.49 1222.53,90.00 1224.38,88.57 1226.23,87.21 1228.08,85.92 1229.93,84.68 1231.78,83.51 1233.62,82.39 1235.47,81.33 1237.32,80.33 1239.17,79.38 1241.02,78.48 1242.87,77.63 1244.72,76.82 1246.56,76.06 1248.41,75.34 1250.26,74.66 1252.11,74.02 1253.96,73.41 1255.81,72.85 1257.66,72.31 1259.50,71.80 1261.35,71.33 1263.20,70.88 1265.05,70.46 1266.90,70.07 1268.75,69.70 1270.60,69.35 1272.44,69.02 1274.29,68.71 1276.14,68.42 1277.99,68.15 1279.84,67.90 1281.69,67.66 1283.54,67.43 1285.38,67.22 1287.23,67.03 1289.08,66.84 1290.93,66.67 1292.78,66.51 1294.63,66.36 1296.48,66.21 1298.33,66.08 1300.17,65.95 1302.02,65.84 1303.87,65.73 1305.72,65.62 1307.57,65.53 1309.42,65.44 1311.27,65.35 1313.11,65.28 1314.96,65.20 1316.81,65.13 1318.66,65.07 1320.51,65.01 1322.36,64.95 1324.21,64.90 1326.05,64.85 1327.90,64.80 1329.75,64.76 1331.60,64.72" fill="none" stroke="#d8454f" stroke-width="2"/>
<line x1="1146.74" y1="168.05" x2="1146.74" y2="203.89" stroke="#b590c8" stroke-width="1"/>
<line x1="1144.24" y1="203.89" x2="1149.24" y2="203.89" stroke="#b590c8" stroke-width="1"/>
<line x1="1144.24" y1="168.05" x2="1149.24" y2="168.05" stroke="#b590c8" stroke-width="1"/>
<circle cx="1146.74" cy="186.24" r="2.2" fill="#9050a8"/>
<line x1="1146.74" y1="194.70" x2="1146.74" y2="203.89" stroke="#e06868" stroke-width="1"/>
<line x1="1144.24" y1="203.89" x2="1149.24" y2="203.89" stroke="#e06868" stroke-width="1"/>
<line x1="1144.24" y1="194.70" x2="1149.24" y2="194.70" stroke="#e06868" stroke-width="1"/>
<circle cx="1146.74" cy="198.93" r="2.2" fill="#d42a24"/>
<line x1="1146.74" y1="192.86" x2="1146.74" y2="226.13" stroke="#f3c080" stroke-width="1"/>
<line x1="1144.24" y1="226.13" x2="1149.24" y2="226.13" stroke="#f3c080" stroke-width="1"/>
<line x1="1144.24" y1="192.86" x2="1149.24" y2="192.86" stroke="#f3c080" stroke-width="1"/>
<circle cx="1146.74" cy="203.52" r="2.2" fill="#f09a30"/>
<line x1="1173.15" y1="152.42" x2="1173.15" y2="159.78" stroke="#b590c8" stroke-width="1"/>
<line x1="1170.65" y1="159.78" x2="1175.65" y2="159.78" stroke="#b590c8" stroke-width="1"/>
<line x1="1170.65" y1="152.42" x2="1175.65" y2="152.42" stroke="#b590c8" stroke-width="1"/>
<circle cx="1173.15" cy="155.36" r="2.2" fill="#9050a8"/>
<line x1="1173.15" y1="161.61" x2="1173.15" y2="174.48" stroke="#e06868" stroke-width="1"/>
<line x1="1170.65" y1="174.48" x2="1175.65" y2="174.48" stroke="#e06868" stroke-width="1"/>
<line x1="1170.65" y1="161.61" x2="1175.65" y2="161.61" stroke="#e06868" stroke-width="1"/>
<circle cx="1173.15" cy="166.03" r="2.2" fill="#d42a24"/>
<line x1="1173.15" y1="165.29" x2="1173.15" y2="176.32" stroke="#f3c080" stroke-width="1"/>
<line x1="1170.65" y1="176.32" x2="1175.65" y2="176.32" stroke="#f3c080" stroke-width="1"/>
<line x1="1170.65" y1="165.29" x2="1175.65" y2="165.29" stroke="#f3c080" stroke-width="1"/>
<circle cx="1173.15" cy="170.80" r="2.2" fill="#f09a30"/>
<line x1="1199.56" y1="99.12" x2="1199.56" y2="110.15" stroke="#b590c8" stroke-width="1"/>
<line x1="1197.06" y1="110.15" x2="1202.06" y2="110.15" stroke="#b590c8" stroke-width="1"/>
<line x1="1197.06" y1="99.12" x2="1202.06" y2="99.12" stroke="#b590c8" stroke-width="1"/>
<circle cx="1199.56" cy="104.27" r="2.2" fill="#9050a8"/>
<line x1="1199.56" y1="119.52" x2="1199.56" y2="144.52" stroke="#e06868" stroke-width="1"/>
<line x1="1197.06" y1="144.52" x2="1202.06" y2="144.52" stroke="#e06868" stroke-width="1"/>
<line x1="1197.06" y1="119.52" x2="1202.06" y2="119.52" stroke="#e06868" stroke-width="1"/>
<circle cx="1199.56" cy="131.65" r="2.2" fill="#d42a24"/>
<line x1="1199.56" y1="157.94" x2="1199.56" y2="170.80" stroke="#f3c080" stroke-width="1"/>
<line x1="1197.06" y1="170.80" x2="1202.06" y2="170.80" stroke="#f3c080" stroke-width="1"/>
<line x1="1197.06" y1="157.94" x2="1202.06" y2="157.94" stroke="#f3c080" stroke-width="1"/>
<circle cx="1199.56" cy="164.00" r="2.2" fill="#f09a30"/>
<circle cx="1225.97" cy="91.59" r="2.2" fill="#9050a8"/>
<circle cx="1225.97" cy="102.43" r="2.2" fill="#d42a24"/>
<line x1="1225.97" y1="113.83" x2="1225.97" y2="126.69" stroke="#f3c080" stroke-width="1"/>
<line x1="1223.47" y1="126.69" x2="1228.47" y2="126.69" stroke="#f3c080" stroke-width="1"/>
<line x1="1223.47" y1="113.83" x2="1228.47" y2="113.83" stroke="#f3c080" stroke-width="1"/>
<circle cx="1225.97" cy="118.79" r="2.2" fill="#f09a30"/>
<line x1="1252.37" y1="66.04" x2="1252.37" y2="75.23" stroke="#b590c8" stroke-width="1"/>
<line x1="1249.87" y1="75.23" x2="1254.87" y2="75.23" stroke="#b590c8" stroke-width="1"/>
<line x1="1249.87" y1="66.04" x2="1254.87" y2="66.04" stroke="#b590c8" stroke-width="1"/>
<circle cx="1252.37" cy="70.27" r="2.2" fill="#9050a8"/>
<line x1="1252.37" y1="223.92" x2="1252.37" y2="248.00" stroke="#3a9a62" stroke-width="1"/>
<line x1="1249.87" y1="248.00" x2="1254.87" y2="248.00" stroke="#3a9a62" stroke-width="1"/>
<line x1="1249.87" y1="223.92" x2="1254.87" y2="223.92" stroke="#3a9a62" stroke-width="1"/>
<circle cx="1252.37" cy="246.53" r="2.2" fill="#1e8a4c"/>
<line x1="1278.78" y1="64.20" x2="1278.78" y2="71.55" stroke="#b590c8" stroke-width="1"/>
<line x1="1276.28" y1="71.55" x2="1281.28" y2="71.55" stroke="#b590c8" stroke-width="1"/>
<line x1="1276.28" y1="64.20" x2="1281.28" y2="64.20" stroke="#b590c8" stroke-width="1"/>
<circle cx="1278.78" cy="66.22" r="2.2" fill="#9050a8"/>
<line x1="1305.19" y1="215.47" x2="1305.19" y2="248.00" stroke="#3a9a62" stroke-width="1"/>
<line x1="1302.69" y1="248.00" x2="1307.69" y2="248.00" stroke="#3a9a62" stroke-width="1"/>
<line x1="1302.69" y1="215.47" x2="1307.69" y2="215.47" stroke="#3a9a62" stroke-width="1"/>
<circle cx="1305.19" cy="231.27" r="2.2" fill="#1e8a4c"/>
<path d="M1110.20,64.20 V248.00 H1386.95" fill="none" stroke="#000" stroke-width="2"/>
<line x1="1110.20" y1="248.00" x2="1110.20" y2="253.50" stroke="#000" stroke-width="2"/>
<line x1="1165.55" y1="248.00" x2="1165.55" y2="253.50" stroke="#000" stroke-width="2"/>
<line x1="1220.90" y1="248.00" x2="1220.90" y2="253.50" stroke="#000" stroke-width="2"/>
<line x1="1276.25" y1="248.00" x2="1276.25" y2="253.50" stroke="#000" stroke-width="2"/>
<line x1="1331.60" y1="248.00" x2="1331.60" y2="253.50" stroke="#000" stroke-width="2"/>
<line x1="1386.95" y1="248.00" x2="1386.95" y2="253.50" stroke="#000" stroke-width="2"/>
<line x1="1104.20" y1="248.00" x2="1110.20" y2="248.00" stroke="#000" stroke-width="2"/>
<text class="ff" x="1091.91" y="254.00" font-size="17.85" textLength="9.45" lengthAdjust="spacingAndGlyphs" fill="#000" >0</text>
<line x1="1104.20" y1="202.05" x2="1110.20" y2="202.05" stroke="#000" stroke-width="2"/>
<text class="ff" x="1082.50" y="208.05" font-size="17.85" textLength="18.91" lengthAdjust="spacingAndGlyphs" fill="#000" >25</text>
<line x1="1104.20" y1="156.10" x2="1110.20" y2="156.10" stroke="#000" stroke-width="2"/>
<text class="ff" x="1082.45" y="162.10" font-size="17.85" textLength="18.91" lengthAdjust="spacingAndGlyphs" fill="#000" >50</text>
<line x1="1104.20" y1="110.15" x2="1110.20" y2="110.15" stroke="#000" stroke-width="2"/>
<text class="ff" x="1082.50" y="116.15" font-size="17.85" textLength="18.91" lengthAdjust="spacingAndGlyphs" fill="#000" >75</text>
<line x1="1104.20" y1="64.20" x2="1110.20" y2="64.20" stroke="#000" stroke-width="2"/>
<text class="ff" x="1073.00" y="70.20" font-size="17.85" textLength="28.36" lengthAdjust="spacingAndGlyphs" fill="#000" >100</text>
<text class="ff" x="1095.70" y="275.80" font-size="17.5">10<tspan font-size="12" dy="-7.5">-3</tspan></text>
<text class="ff" x="1151.08" y="275.80" font-size="17.5">10<tspan font-size="12" dy="-7.5">-2</tspan></text>
<text class="ff" x="1206.43" y="275.80" font-size="17.5">10<tspan font-size="12" dy="-7.5">-1</tspan></text>
<text class="ff" x="1263.71" y="275.80" font-size="17.5">10<tspan font-size="12" dy="-7.5">0</tspan></text>
<text class="ff" x="1319.12" y="275.80" font-size="17.5">10<tspan font-size="12" dy="-7.5">1</tspan></text>
<text class="ff" x="1374.48" y="275.80" font-size="17.5">10<tspan font-size="12" dy="-7.5">2</tspan></text>
<g transform="translate(1064.20,241.60) rotate(-90)">
<text class="ff" x="-0.90" y="0.00" font-size="26.25" textLength="183.33" lengthAdjust="spacingAndGlyphs" fill="#000" >% Neutralization</text>
</g>
<text class="ff" x="1169.64" y="32.80" font-size="26.78" textLength="159.83" lengthAdjust="spacingAndGlyphs" fill="#000" >SHC014-nLuc</text>
<text class="ff" x="1221.95" y="302.50" font-size="26.25" textLength="78.30" lengthAdjust="spacingAndGlyphs" fill="#000" >[µg/ml]</text>
<line x1="1403.2" y1="53.4" x2="1424.1" y2="53.4" stroke="#d8454f" stroke-width="1.7"/>
<circle cx="1413.7" cy="53.4" r="2.2" fill="#9050a8"/>
<text class="ff" x="1435.33" y="61.40" font-size="25.73" textLength="98.80" lengthAdjust="spacingAndGlyphs" fill="#000" >CC25.54</text>
<line x1="1403.2" y1="79.0" x2="1424.1" y2="79.0" stroke="#d42a24" stroke-width="1.7"/>
<circle cx="1413.7" cy="79.0" r="2.2" fill="#d42a24"/>
<text class="ff" x="1435.32" y="87.00" font-size="25.73" textLength="99.18" lengthAdjust="spacingAndGlyphs" fill="#000" >CC25.36</text>
<line x1="1403.2" y1="104.9" x2="1424.1" y2="104.9" stroke="#f0a040" stroke-width="1.7"/>
<circle cx="1413.7" cy="104.9" r="2.2" fill="#f09a30"/>
<text class="ff" x="1435.32" y="112.90" font-size="25.73" textLength="99.18" lengthAdjust="spacingAndGlyphs" fill="#000" >CC25.53</text>
<line x1="1403.2" y1="130.5" x2="1424.1" y2="130.5" stroke="#2a9a50" stroke-width="1.8" stroke-dasharray="4 2.5"/>
<circle cx="1413.7" cy="130.5" r="2.2" fill="#1e8a4c"/>
<text class="ff" x="1434.53" y="138.50" font-size="25.73" textLength="99.64" lengthAdjust="spacingAndGlyphs" fill="#000" >DEN3 (-)</text>
<line x1="1146.7" y1="247.7" x2="1331.6" y2="247.7" stroke="#3aa868" stroke-width="2.2" stroke-dasharray="9 1.5"/>
<line x1="628.9" y1="219.3" x2="813.3" y2="219.3" stroke="#2a9a50" stroke-width="2.2" stroke-dasharray="11 4"/>
<line x1="147.7" y1="482.2" x2="553.6" y2="482.2" stroke="#000" stroke-width="2" stroke-dasharray="2 2.6" stroke-dashoffset="0"/>
<text class="ff" x="564.82" y="488.50" font-size="21.0" textLength="35.41" lengthAdjust="spacingAndGlyphs" fill="#000" >LoD</text>
<path d="M147.70,468.60 V700.70 H553.60" fill="none" stroke="#000" stroke-width="2.2"/>
<line x1="141.70" y1="700.70" x2="147.70" y2="700.70" stroke="#000" stroke-width="2"/>
<line x1="143.70" y1="687.54" x2="147.70" y2="687.54" stroke="#000" stroke-width="1.6"/>
<line x1="143.70" y1="679.85" x2="147.70" y2="679.85" stroke="#000" stroke-width="1.6"/>
<line x1="143.70" y1="674.39" x2="147.70" y2="674.39" stroke="#000" stroke-width="1.6"/>
<line x1="143.70" y1="670.16" x2="147.70" y2="670.16" stroke="#000" stroke-width="1.6"/>
<line x1="143.70" y1="666.69" x2="147.70" y2="666.69" stroke="#000" stroke-width="1.6"/>
<line x1="143.70" y1="663.77" x2="147.70" y2="663.77" stroke="#000" stroke-width="1.6"/>
<line x1="143.70" y1="661.23" x2="147.70" y2="661.23" stroke="#000" stroke-width="1.6"/>
<line x1="143.70" y1="659.00" x2="147.70" y2="659.00" stroke="#000" stroke-width="1.6"/>
<line x1="141.70" y1="657.00" x2="147.70" y2="657.00" stroke="#000" stroke-width="2"/>
<line x1="143.70" y1="643.84" x2="147.70" y2="643.84" stroke="#000" stroke-width="1.6"/>
<line x1="143.70" y1="636.15" x2="147.70" y2="636.15" stroke="#000" stroke-width="1.6"/>
<line x1="143.70" y1="630.69" x2="147.70" y2="630.69" stroke="#000" stroke-width="1.6"/>
<line x1="143.70" y1="626.46" x2="147.70" y2="626.46" stroke="#000" stroke-width="1.6"/>
<line x1="143.70" y1="622.99" x2="147.70" y2="622.99" stroke="#000" stroke-width="1.6"/>
<line x1="143.70" y1="620.07" x2="147.70" y2="620.07" stroke="#000" stroke-width="1.6"/>
<line x1="143.70" y1="617.53" x2="147.70" y2="617.53" stroke="#000" stroke-width="1.6"/>
<line x1="143.70" y1="615.30" x2="147.70" y2="615.30" stroke="#000" stroke-width="1.6"/>
<line x1="141.70" y1="613.30" x2="147.70" y2="613.30" stroke="#000" stroke-width="2"/>
<line x1="143.70" y1="600.14" x2="147.70" y2="600.14" stroke="#000" stroke-width="1.6"/>
<line x1="143.70" y1="592.45" x2="147.70" y2="592.45" stroke="#000" stroke-width="1.6"/>
<line x1="143.70" y1="586.99" x2="147.70" y2="586.99" stroke="#000" stroke-width="1.6"/>
<line x1="143.70" y1="582.76" x2="147.70" y2="582.76" stroke="#000" stroke-width="1.6"/>
<line x1="143.70" y1="579.29" x2="147.70" y2="579.29" stroke="#000" stroke-width="1.6"/>
<line x1="143.70" y1="576.37" x2="147.70" y2="576.37" stroke="#000" stroke-width="1.6"/>
<line x1="143.70" y1="573.83" x2="147.70" y2="573.83" stroke="#000" stroke-width="1.6"/>
<line x1="143.70" y1="571.60" x2="147.70" y2="571.60" stroke="#000" stroke-width="1.6"/>
<line x1="141.70" y1="569.60" x2="147.70" y2="569.60" stroke="#000" stroke-width="2"/>
<line x1="143.70" y1="556.44" x2="147.70" y2="556.44" stroke="#000" stroke-width="1.6"/>
<line x1="143.70" y1="548.75" x2="147.70" y2="548.75" stroke="#000" stroke-width="1.6"/>
<line x1="143.70" y1="543.29" x2="147.70" y2="543.29" stroke="#000" stroke-width="1.6"/>
<line x1="143.70" y1="539.06" x2="147.70" y2="539.06" stroke="#000" stroke-width="1.6"/>
<line x1="143.70" y1="535.59" x2="147.70" y2="535.59" stroke="#000" stroke-width="1.6"/>
<line x1="143.70" y1="532.67" x2="147.70" y2="532.67" stroke="#000" stroke-width="1.6"/>
<line x1="143.70" y1="530.13" x2="147.70" y2="530.13" stroke="#000" stroke-width="1.6"/>
<line x1="143.70" y1="527.90" x2="147.70" y2="527.90" stroke="#000" stroke-width="1.6"/>
<line x1="141.70" y1="525.90" x2="147.70" y2="525.90" stroke="#000" stroke-width="2"/>
<line x1="143.70" y1="512.74" x2="147.70" y2="512.74" stroke="#000" stroke-width="1.6"/>
<line x1="143.70" y1="505.05" x2="147.70" y2="505.05" stroke="#000" stroke-width="1.6"/>
<line x1="143.70" y1="499.59" x2="147.70" y2="499.59" stroke="#000" stroke-width="1.6"/>
<line x1="143.70" y1="495.36" x2="147.70" y2="495.36" stroke="#000" stroke-width="1.6"/>
<line x1="143.70" y1="491.89" x2="147.70" y2="491.89" stroke="#000" stroke-width="1.6"/>
<line x1="143.70" y1="488.97" x2="147.70" y2="488.97" stroke="#000" stroke-width="1.6"/>
<line x1="143.70" y1="486.43" x2="147.70" y2="486.43" stroke="#000" stroke-width="1.6"/>
<line x1="143.70" y1="484.20" x2="147.70" y2="484.20" stroke="#000" stroke-width="1.6"/>
<line x1="141.70" y1="482.20" x2="147.70" y2="482.20" stroke="#000" stroke-width="2"/>
<line x1="143.20" y1="469.04" x2="147.70" y2="469.04" stroke="#000" stroke-width="1.8"/>
<text class="ff" x="111.63" y="490.00" font-size="23.1" textLength="24.47" lengthAdjust="spacingAndGlyphs" fill="#000" >10</text>
<text class="ff" x="123.86" y="533.70" font-size="23.1" textLength="12.24" lengthAdjust="spacingAndGlyphs" fill="#000" >1</text>
<text class="ff" x="105.52" y="577.40" font-size="23.1" textLength="30.58" lengthAdjust="spacingAndGlyphs" fill="#000" >0.1</text>
<text class="ff" x="93.28" y="621.10" font-size="23.1" textLength="42.82" lengthAdjust="spacingAndGlyphs" fill="#000" >0.01</text>
<text class="ff" x="81.05" y="664.80" font-size="23.1" textLength="55.05" lengthAdjust="spacingAndGlyphs" fill="#000" >0.001</text>
<text class="ff" x="68.81" y="708.50" font-size="23.1" textLength="67.29" lengthAdjust="spacingAndGlyphs" fill="#000" >0.0001</text>
<line x1="211.70" y1="700.70" x2="211.70" y2="707.70" stroke="#000" stroke-width="2"/>
<line x1="350.40" y1="700.70" x2="350.40" y2="707.70" stroke="#000" stroke-width="2"/>
<line x1="489.10" y1="700.70" x2="489.10" y2="707.70" stroke="#000" stroke-width="2"/>
<text class="ff" x="164.41" y="426.70" font-size="34.12" textLength="421.84" lengthAdjust="spacingAndGlyphs" fill="#000" >Replication competent viruses</text>
<g transform="translate(42.70,663.20) rotate(-90)">
<text class="ff" x="0" y="0" font-size="32">IC<tspan font-size="23.5" dy="10.3">50</tspan><tspan dy="-10.3"> [µg/ml]</tspan></text>
</g>
<g transform="translate(217.70,732.80) rotate(-45)">
<text class="ff" x="-184.14" y="0" font-size="32">SARS2-nLuc</text>
</g>
<g transform="translate(356.50,732.80) rotate(-45)">
<text class="ff" x="-184.14" y="0" font-size="32">SARS1-nLuc</text>
</g>
<g transform="translate(494.50,734.40) rotate(-45)">
<text class="ff" x="-120.02" y="0" font-size="32">SHC014</text>
</g>
<line x1="156.60" y1="615.30" x2="176.60" y2="615.30" stroke="#7a3a80" stroke-width="1.4"/>
<circle cx="166.60" cy="615.30" r="6.5" fill="#bf60bd" stroke="#a04ca0" stroke-width="0.8"/>
<line x1="186.00" y1="609.80" x2="206.00" y2="609.80" stroke="#5a6a8a" stroke-width="1.4"/>
<circle cx="196.00" cy="609.80" r="6.5" fill="#ea2828" stroke="#d01818" stroke-width="0.8"/>
<line x1="216.30" y1="612.00" x2="236.30" y2="612.00" stroke="#c8a078" stroke-width="1.4"/>
<circle cx="226.30" cy="612.00" r="6.5" fill="#f9aa4c" stroke="#f0a040" stroke-width="0.8"/>
<line x1="246.20" y1="482.20" x2="266.20" y2="482.20" stroke="#7a9a90" stroke-width="1.4"/>
<circle cx="256.20" cy="482.20" r="6.5" fill="#13953f" stroke="#0e7a36" stroke-width="0.8"/>
<line x1="295.70" y1="655.90" x2="315.70" y2="655.90" stroke="#7a3a80" stroke-width="1.4"/>
<circle cx="305.70" cy="655.90" r="6.5" fill="#bf60bd" stroke="#a04ca0" stroke-width="0.8"/>
<line x1="325.50" y1="626.40" x2="345.50" y2="626.40" stroke="#5a6a8a" stroke-width="1.4"/>
<circle cx="335.50" cy="626.40" r="6.5" fill="#ea2828" stroke="#d01818" stroke-width="0.8"/>
<line x1="354.90" y1="629.30" x2="374.90" y2="629.30" stroke="#c8a078" stroke-width="1.4"/>
<circle cx="364.90" cy="629.30" r="6.5" fill="#f9aa4c" stroke="#f0a040" stroke-width="0.8"/>
<line x1="384.70" y1="482.20" x2="404.70" y2="482.20" stroke="#7a9a90" stroke-width="1.4"/>
<circle cx="394.70" cy="482.20" r="6.5" fill="#13953f" stroke="#0e7a36" stroke-width="0.8"/>
<line x1="434.20" y1="612.00" x2="454.20" y2="612.00" stroke="#7a3a80" stroke-width="1.4"/>
<circle cx="444.20" cy="612.00" r="6.5" fill="#bf60bd" stroke="#a04ca0" stroke-width="0.8"/>
<line x1="464.30" y1="602.60" x2="484.30" y2="602.60" stroke="#5a6a8a" stroke-width="1.4"/>
<circle cx="474.30" cy="602.60" r="6.5" fill="#ea2828" stroke="#d01818" stroke-width="0.8"/>
<line x1="493.40" y1="592.90" x2="513.40" y2="592.90" stroke="#c8a078" stroke-width="1.4"/>
<circle cx="503.40" cy="592.90" r="6.5" fill="#f9aa4c" stroke="#f0a040" stroke-width="0.8"/>
<line x1="523.20" y1="482.20" x2="543.20" y2="482.20" stroke="#7a9a90" stroke-width="1.4"/>
<circle cx="533.20" cy="482.20" r="6.5" fill="#13953f" stroke="#0e7a36" stroke-width="0.8"/>
<circle cx="604.90" cy="526.30" r="6.8" fill="#bf60bd"/>
<text class="ff" x="631.50" y="537.20" font-size="32.02" textLength="124.32" lengthAdjust="spacingAndGlyphs" fill="#000" >CC25.54</text>
<circle cx="604.90" cy="560.90" r="6.8" fill="#ea2828"/>
<text class="ff" x="631.49" y="571.10" font-size="32.02" textLength="124.80" lengthAdjust="spacingAndGlyphs" fill="#000" >CC25.36</text>
<circle cx="604.90" cy="596.30" r="6.8" fill="#f9aa4c"/>
<text class="ff" x="631.49" y="605.90" font-size="32.02" textLength="124.80" lengthAdjust="spacingAndGlyphs" fill="#000" >CC25.53</text>
<circle cx="604.90" cy="635.50" r="6.8" fill="#13953f"/>
<text class="ff" x="630.49" y="645.10" font-size="32.02" textLength="125.59" lengthAdjust="spacingAndGlyphs" fill="#000" >DEN3 (-)</text>
<line x1="927.7" y1="482.2" x2="1333.6" y2="482.2" stroke="#000" stroke-width="2" stroke-dasharray="2 2.6" stroke-dashoffset="0"/>
<text class="ff" x="1344.82" y="488.50" font-size="21.0" textLength="35.41" lengthAdjust="spacingAndGlyphs" fill="#000" >LoD</text>
<path d="M927.70,468.60 V700.70 H1333.60" fill="none" stroke="#000" stroke-width="2.2"/>
<line x1="921.70" y1="700.70" x2="927.70" y2="700.70" stroke="#000" stroke-width="2"/>
<line x1="923.70" y1="687.54" x2="927.70" y2="687.54" stroke="#000" stroke-width="1.6"/>
<line x1="923.70" y1="679.85" x2="927.70" y2="679.85" stroke="#000" stroke-width="1.6"/>
<line x1="923.70" y1="674.39" x2="927.70" y2="674.39" stroke="#000" stroke-width="1.6"/>
<line x1="923.70" y1="670.16" x2="927.70" y2="670.16" stroke="#000" stroke-width="1.6"/>
<line x1="923.70" y1="666.69" x2="927.70" y2="666.69" stroke="#000" stroke-width="1.6"/>
<line x1="923.70" y1="663.77" x2="927.70" y2="663.77" stroke="#000" stroke-width="1.6"/>
<line x1="923.70" y1="661.23" x2="927.70" y2="661.23" stroke="#000" stroke-width="1.6"/>
<line x1="923.70" y1="659.00" x2="927.70" y2="659.00" stroke="#000" stroke-width="1.6"/>
<line x1="921.70" y1="657.00" x2="927.70" y2="657.00" stroke="#000" stroke-width="2"/>
<line x1="923.70" y1="643.84" x2="927.70" y2="643.84" stroke="#000" stroke-width="1.6"/>
<line x1="923.70" y1="636.15" x2="927.70" y2="636.15" stroke="#000" stroke-width="1.6"/>
<line x1="923.70" y1="630.69" x2="927.70" y2="630.69" stroke="#000" stroke-width="1.6"/>
<line x1="923.70" y1="626.46" x2="927.70" y2="626.46" stroke="#000" stroke-width="1.6"/>
<line x1="923.70" y1="622.99" x2="927.70" y2="622.99" stroke="#000" stroke-width="1.6"/>
<line x1="923.70" y1="620.07" x2="927.70" y2="620.07" stroke="#000" stroke-width="1.6"/>
<line x1="923.70" y1="617.53" x2="927.70" y2="617.53" stroke="#000" stroke-width="1.6"/>
<line x1="923.70" y1="615.30" x2="927.70" y2="615.30" stroke="#000" stroke-width="1.6"/>
<line x1="921.70" y1="613.30" x2="927.70" y2="613.30" stroke="#000" stroke-width="2"/>
<line x1="923.70" y1="600.14" x2="927.70" y2="600.14" stroke="#000" stroke-width="1.6"/>
<line x1="923.70" y1="592.45" x2="927.70" y2="592.45" stroke="#000" stroke-width="1.6"/>
<line x1="923.70" y1="586.99" x2="927.70" y2="586.99" stroke="#000" stroke-width="1.6"/>
<line x1="923.70" y1="582.76" x2="927.70" y2="582.76" stroke="#000" stroke-width="1.6"/>
<line x1="923.70" y1="579.29" x2="927.70" y2="579.29" stroke="#000" stroke-width="1.6"/>
<line x1="923.70" y1="576.37" x2="927.70" y2="576.37" stroke="#000" stroke-width="1.6"/>
<line x1="923.70" y1="573.83" x2="927.70" y2="573.83" stroke="#000" stroke-width="1.6"/>
<line x1="923.70" y1="571.60" x2="927.70" y2="571.60" stroke="#000" stroke-width="1.6"/>
<line x1="921.70" y1="569.60" x2="927.70" y2="569.60" stroke="#000" stroke-width="2"/>
<line x1="923.70" y1="556.44" x2="927.70" y2="556.44" stroke="#000" stroke-width="1.6"/>
<line x1="923.70" y1="548.75" x2="927.70" y2="548.75" stroke="#000" stroke-width="1.6"/>
<line x1="923.70" y1="543.29" x2="927.70" y2="543.29" stroke="#000" stroke-width="1.6"/>
<line x1="923.70" y1="539.06" x2="927.70" y2="539.06" stroke="#000" stroke-width="1.6"/>
<line x1="923.70" y1="535.59" x2="927.70" y2="535.59" stroke="#000" stroke-width="1.6"/>
<line x1="923.70" y1="532.67" x2="927.70" y2="532.67" stroke="#000" stroke-width="1.6"/>
<line x1="923.70" y1="530.13" x2="927.70" y2="530.13" stroke="#000" stroke-width="1.6"/>
<line x1="923.70" y1="527.90" x2="927.70" y2="527.90" stroke="#000" stroke-width="1.6"/>
<line x1="921.70" y1="525.90" x2="927.70" y2="525.90" stroke="#000" stroke-width="2"/>
<line x1="923.70" y1="512.74" x2="927.70" y2="512.74" stroke="#000" stroke-width="1.6"/>
<line x1="923.70" y1="505.05" x2="927.70" y2="505.05" stroke="#000" stroke-width="1.6"/>
<line x1="923.70" y1="499.59" x2="927.70" y2="499.59" stroke="#000" stroke-width="1.6"/>
<line x1="923.70" y1="495.36" x2="927.70" y2="495.36" stroke="#000" stroke-width="1.6"/>
<line x1="923.70" y1="491.89" x2="927.70" y2="491.89" stroke="#000" stroke-width="1.6"/>
<line x1="923.70" y1="488.97" x2="927.70" y2="488.97" stroke="#000" stroke-width="1.6"/>
<line x1="923.70" y1="486.43" x2="927.70" y2="486.43" stroke="#000" stroke-width="1.6"/>
<line x1="923.70" y1="484.20" x2="927.70" y2="484.20" stroke="#000" stroke-width="1.6"/>
<line x1="921.70" y1="482.20" x2="927.70" y2="482.20" stroke="#000" stroke-width="2"/>
<line x1="923.20" y1="469.04" x2="927.70" y2="469.04" stroke="#000" stroke-width="1.8"/>
<text class="ff" x="891.63" y="490.00" font-size="23.1" textLength="24.47" lengthAdjust="spacingAndGlyphs" fill="#000" >10</text>
<text class="ff" x="903.86" y="533.70" font-size="23.1" textLength="12.24" lengthAdjust="spacingAndGlyphs" fill="#000" >1</text>
<text class="ff" x="885.52" y="577.40" font-size="23.1" textLength="30.58" lengthAdjust="spacingAndGlyphs" fill="#000" >0.1</text>
<text class="ff" x="873.28" y="621.10" font-size="23.1" textLength="42.82" lengthAdjust="spacingAndGlyphs" fill="#000" >0.01</text>
<text class="ff" x="861.05" y="664.80" font-size="23.1" textLength="55.05" lengthAdjust="spacingAndGlyphs" fill="#000" >0.001</text>
<text class="ff" x="848.81" y="708.50" font-size="23.1" textLength="67.29" lengthAdjust="spacingAndGlyphs" fill="#000" >0.0001</text>
<line x1="991.70" y1="700.70" x2="991.70" y2="707.70" stroke="#000" stroke-width="2"/>
<line x1="1130.40" y1="700.70" x2="1130.40" y2="707.70" stroke="#000" stroke-width="2"/>
<line x1="1269.10" y1="700.70" x2="1269.10" y2="707.70" stroke="#000" stroke-width="2"/>
<text class="ff" x="944.40" y="426.70" font-size="34.12" textLength="207.95" lengthAdjust="spacingAndGlyphs" fill="#000" >Pseudoviruses</text>
<g transform="translate(822.70,663.20) rotate(-90)">
<text class="ff" x="0" y="0" font-size="32">IC<tspan font-size="23.5" dy="10.3">50</tspan><tspan dy="-10.3"> [µg/ml]</tspan></text>
</g>
<g transform="translate(997.70,732.80) rotate(-45)">
<text class="ff" x="-186.89" y="0" font-size="32">SARS-CoV-2</text>
</g>
<g transform="translate(1136.50,732.80) rotate(-45)">
<text class="ff" x="-186.94" y="0" font-size="32">SARS-CoV-1</text>
</g>
<g transform="translate(1274.50,734.40) rotate(-45)">
<text class="ff" x="-120.02" y="0" font-size="32">SHC014</text>
</g>
<line x1="936.60" y1="565.00" x2="956.60" y2="565.00" stroke="#7a3a80" stroke-width="1.4"/>
<circle cx="946.60" cy="565.00" r="6.5" fill="#bf60bd" stroke="#a04ca0" stroke-width="0.8"/>
<line x1="966.10" y1="562.40" x2="986.10" y2="562.40" stroke="#5a6a8a" stroke-width="1.4"/>
<circle cx="976.10" cy="562.40" r="6.5" fill="#ea2828" stroke="#d01818" stroke-width="0.8"/>
<line x1="996.30" y1="556.90" x2="1016.30" y2="556.90" stroke="#c8a078" stroke-width="1.4"/>
<circle cx="1006.30" cy="556.90" r="6.5" fill="#f9aa4c" stroke="#f0a040" stroke-width="0.8"/>
<line x1="1026.20" y1="482.20" x2="1046.20" y2="482.20" stroke="#7a9a90" stroke-width="1.4"/>
<circle cx="1036.20" cy="482.20" r="6.5" fill="#13953f" stroke="#0e7a36" stroke-width="0.8"/>
<line x1="1075.70" y1="587.30" x2="1095.70" y2="587.30" stroke="#7a3a80" stroke-width="1.4"/>
<circle cx="1085.70" cy="587.30" r="6.5" fill="#bf60bd" stroke="#a04ca0" stroke-width="0.8"/>
<line x1="1105.50" y1="583.20" x2="1125.50" y2="583.20" stroke="#5a6a8a" stroke-width="1.4"/>
<circle cx="1115.50" cy="583.20" r="6.5" fill="#ea2828" stroke="#d01818" stroke-width="0.8"/>
<line x1="1134.90" y1="570.00" x2="1154.90" y2="570.00" stroke="#c8a078" stroke-width="1.4"/>
<circle cx="1144.90" cy="570.00" r="6.5" fill="#f9aa4c" stroke="#f0a040" stroke-width="0.8"/>
<line x1="1164.70" y1="482.20" x2="1184.70" y2="482.20" stroke="#7a9a90" stroke-width="1.4"/>
<circle cx="1174.70" cy="482.20" r="6.5" fill="#13953f" stroke="#0e7a36" stroke-width="0.8"/>
<line x1="1214.20" y1="613.60" x2="1234.20" y2="613.60" stroke="#7a3a80" stroke-width="1.4"/>
<circle cx="1224.20" cy="613.60" r="6.5" fill="#bf60bd" stroke="#a04ca0" stroke-width="0.8"/>
<line x1="1244.30" y1="587.30" x2="1264.30" y2="587.30" stroke="#5a6a8a" stroke-width="1.4"/>
<circle cx="1254.30" cy="587.30" r="6.5" fill="#ea2828" stroke="#d01818" stroke-width="0.8"/>
<line x1="1273.40" y1="601.00" x2="1293.40" y2="601.00" stroke="#c8a078" stroke-width="1.4"/>
<circle cx="1283.40" cy="601.00" r="6.5" fill="#f9aa4c" stroke="#f0a040" stroke-width="0.8"/>
<line x1="1303.20" y1="482.20" x2="1323.20" y2="482.20" stroke="#7a9a90" stroke-width="1.4"/>
<circle cx="1313.20" cy="482.20" r="6.5" fill="#13953f" stroke="#0e7a36" stroke-width="0.8"/>
<circle cx="1384.90" cy="526.30" r="6.8" fill="#bf60bd"/>
<text class="ff" x="1411.50" y="537.20" font-size="32.02" textLength="124.32" lengthAdjust="spacingAndGlyphs" fill="#000" >CC25.54</text>
<circle cx="1384.90" cy="560.90" r="6.8" fill="#ea2828"/>
<text class="ff" x="1411.49" y="571.10" font-size="32.02" textLength="124.80" lengthAdjust="spacingAndGlyphs" fill="#000" >CC25.36</text>
<circle cx="1384.90" cy="596.30" r="6.8" fill="#f9aa4c"/>
<text class="ff" x="1411.49" y="605.90" font-size="32.02" textLength="124.80" lengthAdjust="spacingAndGlyphs" fill="#000" >CC25.53</text>
<circle cx="1384.90" cy="635.50" r="6.8" fill="#13953f"/>
<text class="ff" x="1410.49" y="645.10" font-size="32.02" textLength="125.59" lengthAdjust="spacingAndGlyphs" fill="#000" >DEN3 (-)</text>
</svg>
</body></html>
